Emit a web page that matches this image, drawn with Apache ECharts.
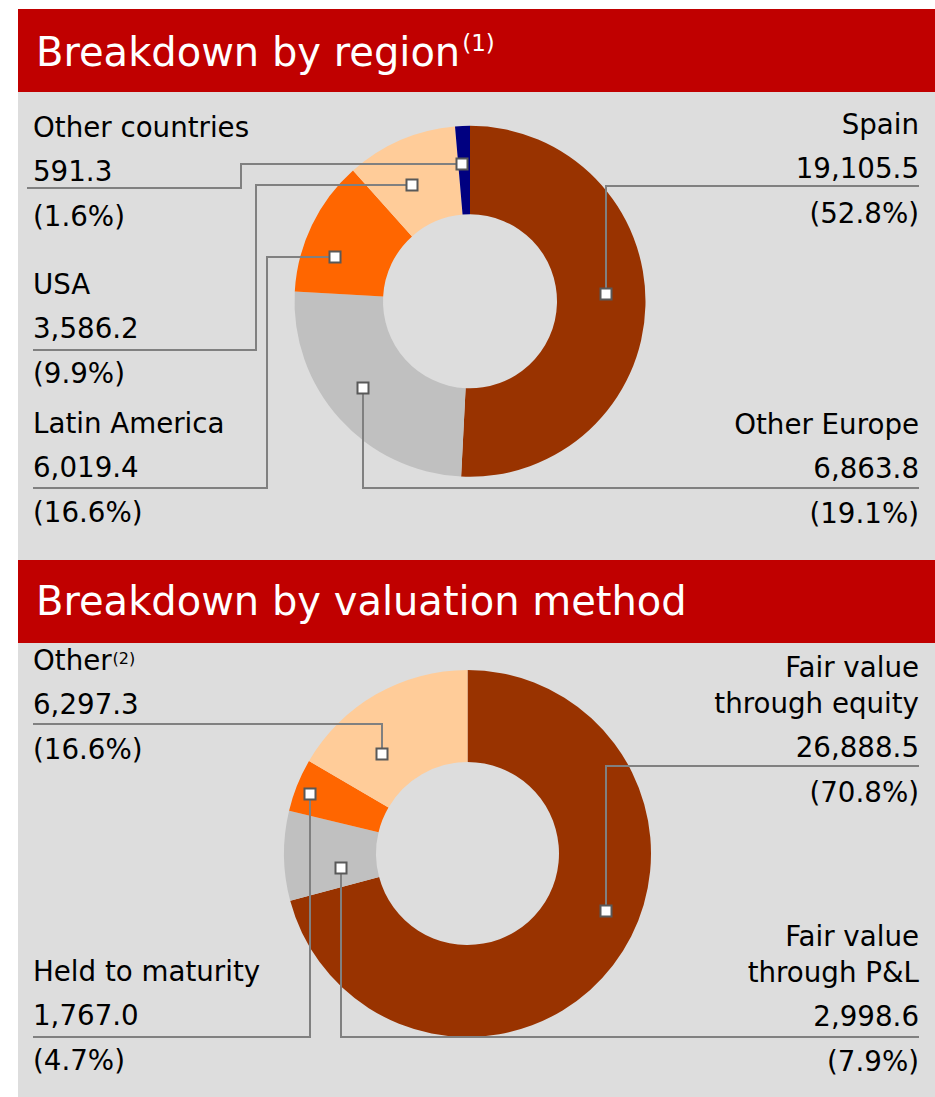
<!DOCTYPE html>
<html>
<head>
<meta charset="utf-8">
<script src="https://cdn.jsdelivr.net/npm/echarts@6/dist/echarts.min.js"></script>
<style>
  html, body { margin: 0; padding: 0; background: #ffffff; }
  #chart { width: 935px; height: 1097px; }
</style>
</head>
<body>
<div id="chart"></div>
<script>
// ---------------- data ----------------
const regionTitle = 'Breakdown by region';
const regionTitleNote = '(1)';
const regionNames = ['Spain', 'Other Europe', 'Latin America', 'USA', 'Other countries'];
const regionValues = [19105.5, 6863.8, 6019.4, 3586.2, 591.3];      // printed figures
const regionPercents = ['52.8', '19.1', '16.6', '9.9', '1.6'];       // printed shares
// arc of each slice as actually drawn in the source (degrees); the source's slices
// do not follow the printed figures, so the drawn arcs are read separately
const regionSliceDegrees = [182.9, 90.3, 45.0, 36.9, 4.9];

const methodTitle = 'Breakdown by valuation method';
const methodNames = ['Fair value\nthrough equity', 'Fair value\nthrough P&L', 'Held to maturity', 'Other'];
const methodNotes = ['', '', '', '(2)'];
const methodValues = [26888.5, 2998.6, 1767.0, 6297.3];
const methodPercents = ['70.8', '7.9', '4.7', '16.6'];

// ---------------- styles & layout ----------------
const FONT = 'DejaVu Sans';
const regionColors = ['#993300', '#C0C0C0', '#FF6600', '#FFCC99', '#000080'];
const methodColors = ['#993300', '#C0C0C0', '#FF6600', '#FFCC99'];

// label block position, underline y, line end x, optional elbow x,
// anchor = [fraction along the slice arc, fraction across the ring]
const regionLayout = [
  { x: 919, y: 106, align: 'right', under: 186, end: 919, anchor: [0.476, 0.556] },
  { x: 919, y: 406, align: 'right', under: 488, end: 919, anchor: [0.533, 0.568] },
  { x: 33,  y: 405, align: 'left',  under: 488, end: 33,  elbow: 267, anchor: [0.331, 0.618] },
  { x: 33,  y: 266, align: 'left',  under: 350, end: 33,  elbow: 256, anchor: [0.417, 0.481] },
  { x: 33,  y: 109, align: 'left',  under: 188, end: 27,  elbow: 241, anchor: [0.294, 0.57] }
];
const methodLayout = [
  { x: 919, y: 649.5, align: 'right', under: 766,  end: 919, anchor: [0.441, 0.636] },
  { x: 919, y: 918,   align: 'right', under: 1037, end: 919, anchor: [0.30, 0.392] },
  { x: 33,  y: 953,   align: 'left',  under: 1037, end: 33,  anchor: [0.43, 0.836] },
  { x: 33,  y: 642,   align: 'left',  under: 724,  end: 33,  anchor: [0.32, 0.43] }
];

function fmtNum(v) {
  return v.toLocaleString('en-US', { minimumFractionDigits: 1, maximumFractionDigits: 1 });
}

const LFS = 27.7;
const labelRich = {
  n: { fontFamily: FONT, fontSize: LFS, fontWeight: 'normal', lineHeight: 36, color: '#000' },
  s: { fontFamily: FONT, fontSize: 16, fontWeight: 'normal', verticalAlign: 'top', padding: [8, 0, 0, 1], color: '#000' },
  v: { fontFamily: FONT, fontSize: LFS, fontWeight: 'normal', lineHeight: 52, color: '#000' },
  p: { fontFamily: FONT, fontSize: LFS, fontWeight: 'normal', lineHeight: 38, color: '#000' }
};

function makeFormatter(names, notes, values, percents) {
  return function (params) {
    const i = params.dataIndex;
    const lines = names[i].split('\n');
    const nameStr = lines.map(function (s, k) {
      const note = (k === lines.length - 1 && notes && notes[i]) ? '{s|' + notes[i] + '}' : '';
      return '{n|' + s + '}' + note;
    }).join('\n');
    return nameStr + '\n{v|' + fmtNum(values[i]) + '}\n{p|(' + percents[i] + '%)}';
  };
}

function makeLabelLayout(layout) {
  return function (params) {
    const c = layout[params.dataIndex];
    return { x: c.x, y: c.y, align: c.align, verticalAlign: 'top' };
  };
}

const regionCenter = [470, 301.3], regionRadius = [87, 175.5];
const methodCenter = [467.5, 853.5], methodRadius = [91.5, 183.5];

const baseGraphic = [
  { id: 'hdr1', type: 'rect', z: 0, shape: { x: 18, y: 9, width: 917, height: 83 }, style: { fill: '#C00000' } },
  { id: 'pan1', type: 'rect', z: 0, shape: { x: 18, y: 92, width: 917, height: 468 }, style: { fill: '#DDDDDD' } },
  { id: 'hdr2', type: 'rect', z: 0, shape: { x: 18, y: 560, width: 917, height: 83 }, style: { fill: '#C00000' } },
  { id: 'pan2', type: 'rect', z: 0, shape: { x: 18, y: 643, width: 917, height: 454 }, style: { fill: '#DDDDDD' } }
];

const titleRich = {
  t: { fontFamily: FONT, fontSize: 40, fontWeight: 'normal', lineHeight: 50, color: '#ffffff' },
  s: { fontFamily: FONT, fontSize: 23, fontWeight: 'normal', verticalAlign: 'top', padding: [4, 0, 0, 2], color: '#ffffff' }
};

const chart = echarts.init(document.getElementById('chart'), null, { renderer: 'svg' });

const option = {
  backgroundColor: '#ffffff',
  animation: false,
  title: [
    { text: '{t|' + regionTitle + '}{s|' + regionTitleNote + '}', left: 36, top: 27, padding: 0, z: 6,
      textStyle: { fontWeight: 'normal', fontFamily: FONT, rich: titleRich } },
    { text: '{t|' + methodTitle + '}', left: 36, top: 576, padding: 0, z: 6,
      textStyle: { fontWeight: 'normal', fontFamily: FONT, rich: titleRich } }
  ],
  graphic: { elements: baseGraphic },
  series: [
    {
      type: 'pie', z: 2, silent: true,
      center: regionCenter, radius: regionRadius,
      startAngle: 90, clockwise: true, avoidLabelOverlap: false,
      data: regionNames.map(function (n, i) {
        return { name: n, value: regionSliceDegrees[i], itemStyle: { color: regionColors[i] } };
      }),
      label: {
        show: true, position: 'outside', width: 340, overflow: 'none',
        fontFamily: FONT, fontWeight: 'normal',
        formatter: makeFormatter(regionNames, null, regionValues, regionPercents),
        rich: labelRich
      },
      labelLine: { show: false },
      labelLayout: makeLabelLayout(regionLayout)
    },
    {
      type: 'pie', z: 2, silent: true,
      center: methodCenter, radius: methodRadius,
      startAngle: 90, clockwise: true, avoidLabelOverlap: false,
      data: methodNames.map(function (n, i) {
        return { name: n, value: methodValues[i], itemStyle: { color: methodColors[i] } };
      }),
      label: {
        show: true, position: 'outside', width: 340, overflow: 'none',
        fontFamily: FONT, fontWeight: 'normal',
        formatter: makeFormatter(methodNames, methodNotes, methodValues, methodPercents),
        rich: labelRich
      },
      labelLine: { show: false },
      labelLayout: makeLabelLayout(methodLayout)
    }
  ]
};

chart.setOption(option);

// ---------- leader lines and anchor markers from the library's slice layout ----------
function sliceLayouts(seriesIndex, values, center, radius) {
  let out = null;
  try {
    const data = chart.getModel().getSeriesByIndex(seriesIndex).getData();
    out = values.map(function (_, i) { return data.getItemLayout(i); });
    if (!out[0] || out[0].startAngle == null) out = null;
  } catch (e) { out = null; }
  if (!out) {
    const total = values.reduce(function (a, b) { return a + b; }, 0);
    let cur = -Math.PI / 2;
    out = values.map(function (v) {
      const s = cur; cur += v / total * Math.PI * 2;
      return { cx: center[0], cy: center[1], r0: radius[0], r: radius[1], startAngle: s, endAngle: cur };
    });
  }
  return out;
}

function guides(prefix, layouts, cfg) {
  const els = [];
  cfg.forEach(function (c, i) {
    const L = layouts[i];
    const a = L.startAngle + (L.endAngle - L.startAngle) * c.anchor[0];
    const r = L.r0 + (L.r - L.r0) * c.anchor[1];
    const mx = Math.round(L.cx + r * Math.cos(a));
    const my = Math.round(L.cy + r * Math.sin(a));
    let pts;
    if (c.elbow != null) {
      pts = [[mx, my], [c.elbow, my], [c.elbow, c.under], [c.end, c.under]];
    } else {
      pts = [[mx, my], [mx, c.under], [c.end, c.under]];
    }
    els.push({ id: prefix + 'line' + i, type: 'polyline', z: 10, silent: true,
      shape: { points: pts }, style: { stroke: '#808080', lineWidth: 2, fill: null } });
    els.push({ id: prefix + 'mk' + i, type: 'rect', z: 11, silent: true,
      shape: { x: mx - 5.5, y: my - 5.5, width: 11, height: 11 },
      style: { fill: '#ffffff', stroke: '#595959', lineWidth: 2 } });
  });
  return els;
}

const regionL = sliceLayouts(0, regionSliceDegrees, regionCenter, regionRadius);
const methodL = sliceLayouts(1, methodValues, methodCenter, methodRadius);

chart.setOption({
  graphic: {
    elements: baseGraphic
      .concat(guides('r', regionL, regionLayout))
      .concat(guides('m', methodL, methodLayout))
  }
});
</script>
</body>
</html>
